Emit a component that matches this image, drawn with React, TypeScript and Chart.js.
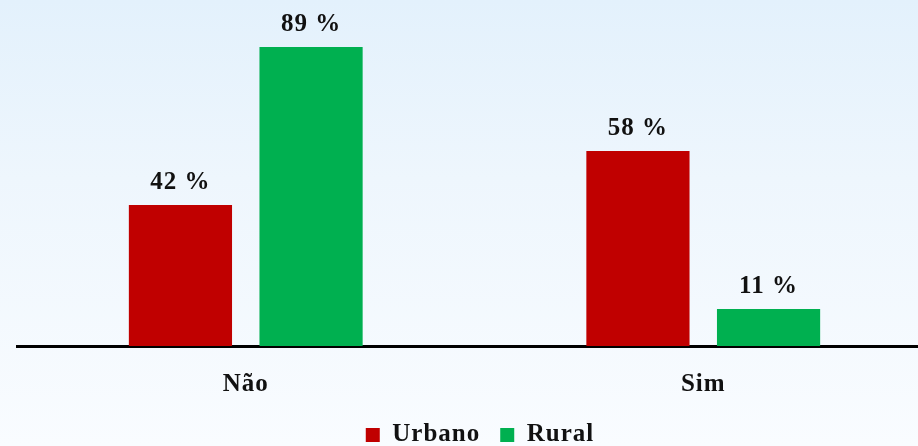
import React, { useEffect, useRef } from "react";
import { Chart, registerables } from "chart.js";
Chart.register(...registerables);

const categories = ["Não", "Sim"];
const seriesNames = ["Urbano", "Rural"];
const urbano = [42, 58];
const rural = [89, 11];
const seriesColors = ["#c00000", "#00b050"];

export default function App() {
  const ref = useRef<HTMLCanvasElement>(null);
  useEffect(() => {
    document.body.style.margin = "0";
    document.body.style.overflow = "hidden";
    if (!ref.current) return;
    const spacingPlugin = {
      id: "spacing",
      beforeInit(chart: any) {
        chart.ctx.letterSpacing = "1px";
      },
      beforeDraw(chart: any) {
        chart.ctx.letterSpacing = "1px";
      },
    };
    const labelPlugin = {
      id: "valueLabels",
      afterDatasetsDraw(chart: any) {
        const ctx = chart.ctx;
        ctx.save();
        ctx.font = "bold 25px 'Liberation Serif'";
        ctx.fillStyle = "#111";
        ctx.textAlign = "center";
        ctx.textBaseline = "alphabetic";
        chart.data.datasets.forEach((ds: any, i: number) => {
          chart.getDatasetMeta(i).data.forEach((bar: any, j: number) => {
            ctx.fillText(`${ds.data[j]} %`, bar.x, bar.y - 16);
          });
        });
        ctx.restore();
      },
    };
    const chart = new Chart(ref.current, {
      type: "bar",
      data: {
        labels: categories,
        datasets: [
          { label: seriesNames[0], data: urbano, backgroundColor: seriesColors[0] },
          { label: seriesNames[1], data: rural, backgroundColor: seriesColors[1] },
        ],
      },
      options: {
        responsive: false,
        animation: false,
        devicePixelRatio: 1,
        categoryPercentage: 0.571,
        barPercentage: 0.79,
        layout: { padding: { left: 17, right: 0, top: 10, bottom: -11.5 } },
        plugins: {
          tooltip: { enabled: false },
          legend: {
            position: "bottom",
            labels: {
              boxWidth: 14,
              boxHeight: 14,
              padding: 20,
              color: "#111",
              font: { family: "'Liberation Serif'", size: 25, weight: "bold" },
            },
          },
        },
        scales: {
          x: {
            grid: { display: false },
            border: { display: true, color: "#000", width: 3 },
            ticks: {
              color: "#111",
              padding: 16,
              font: { family: "'Liberation Serif'", size: 25, weight: "bold" },
            },
            afterFit(scale: any) {
              scale.height = 56.5;
            },
          },
          y: {
            display: false,
            min: 0,
            max: 100,
          },
        },
      },
      plugins: [spacingPlugin, labelPlugin],
    });
    return () => chart.destroy();
  }, []);
  return (
    <div
      style={{
        width: 918,
        height: 446,
        overflow: "hidden",
        background: "linear-gradient(to bottom, #e3f1fc 0%, #eef6fd 40%, #f9fcff 100%)",
      }}
    >
      <canvas ref={ref} width={932} height={446} style={{ display: "block" }} />
    </div>
  );
}
